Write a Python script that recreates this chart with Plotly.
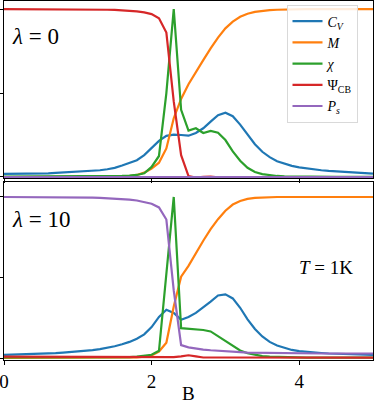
import plotly.graph_objects as go

B = [0.0, 0.1, 0.2, 0.3, 0.4, 0.5, 0.6, 0.7, 0.8, 0.9,
     1.0, 1.1, 1.2, 1.3, 1.4, 1.5, 1.6, 1.7, 1.8, 1.9,
     2.0, 2.1, 2.2, 2.3, 2.4, 2.5, 2.6, 2.7, 2.8, 2.9,
     3.0, 3.1, 3.2, 3.3, 3.4, 3.5, 3.6, 3.7, 3.8, 3.9,
     4.0, 4.1, 4.2, 4.3, 4.4, 4.5, 4.6, 4.7, 4.8, 4.9, 5.0]

# ---- lambda = 0 (top panel) ----
cv_top = [0.018, 0.018, 0.019, 0.019, 0.020, 0.021, 0.022, 0.024, 0.026, 0.028,
          0.030, 0.033, 0.036, 0.040, 0.046, 0.054, 0.068, 0.085, 0.100, 0.130,
          0.175, 0.215, 0.245, 0.252, 0.250, 0.246, 0.262, 0.290, 0.330, 0.368,
          0.383, 0.362, 0.312, 0.252, 0.195, 0.150, 0.118, 0.094, 0.078, 0.066,
          0.057, 0.050, 0.044, 0.040, 0.036, 0.033, 0.030, 0.027, 0.024, 0.022, 0.020]
m_top = [0.0, 0.0, 0.0, 0.0, 0.0, 0.0, 0.0, 0.0, 0.0, 0.0,
         0.0, 0.0, 0.0, 0.0, 0.001, 0.001, 0.002, 0.005, 0.012, 0.026,
         0.050, 0.085, 0.170, 0.350, 0.465, 0.552, 0.627, 0.696, 0.766, 0.830,
         0.885, 0.925, 0.954, 0.972, 0.983, 0.990, 0.994, 0.996, 0.998, 0.999,
         1.0, 1.0, 1.0, 1.0, 1.0, 1.0, 1.0, 1.0, 1.0, 1.0, 1.0]
chi_top = [0.002, 0.002, 0.002, 0.002, 0.002, 0.002, 0.002, 0.002, 0.002, 0.002,
           0.002, 0.003, 0.003, 0.003, 0.003, 0.004, 0.006, 0.008, 0.012, 0.022,
           0.060, 0.125, 0.500, 1.0, 0.400, 0.276, 0.290, 0.262, 0.274, 0.264,
           0.220, 0.152, 0.097, 0.055, 0.030, 0.017, 0.010, 0.006, 0.004, 0.003,
           0.002, 0.002, 0.002, 0.001, 0.001, 0.001, 0.001, 0.001, 0.001, 0.001, 0.001]
psi_top = [1.0, 1.0, 1.0, 1.0, 1.0, 1.0, 1.0, 0.999, 0.999, 0.999,
           0.999, 0.998, 0.998, 0.997, 0.996, 0.995, 0.993, 0.990, 0.986, 0.980,
           0.970, 0.945, 0.860, 0.450, 0.130, 0.005, -0.003, 0.001, 0.002, -0.002,
           -0.004, 0.0, 0.001, 0.0, 0.0, 0.0, 0.0, 0.0, 0.0, 0.0,
           0.0, 0.0, 0.0, 0.0, 0.0, 0.0, 0.0, 0.0, 0.0, 0.0, 0.0]
ps_top = [0.0] * 51

# ---- lambda = 10 (bottom panel) ----
cv_bot = [0.019, 0.020, 0.021, 0.022, 0.024, 0.026, 0.028, 0.030, 0.033, 0.036,
          0.040, 0.044, 0.049, 0.055, 0.063, 0.073, 0.085, 0.100, 0.120, 0.147,
          0.192, 0.255, 0.300, 0.280, 0.238, 0.255, 0.280, 0.313, 0.350, 0.388,
          0.395, 0.370, 0.312, 0.240, 0.180, 0.134, 0.100, 0.078, 0.062, 0.050,
          0.043, 0.038, 0.034, 0.031, 0.028, 0.026, 0.024, 0.022, 0.021, 0.020, 0.019]
m_bot = [0.0, 0.0, 0.0, 0.0, 0.0, 0.0, 0.0, 0.0, 0.0, 0.0,
         0.0, 0.0, 0.0, 0.001, 0.001, 0.001, 0.002, 0.002, 0.004, 0.008,
         0.016, 0.040, 0.095, 0.320, 0.505, 0.572, 0.652, 0.728, 0.800, 0.862,
         0.915, 0.953, 0.975, 0.988, 0.994, 0.997, 0.999, 1.0, 1.0, 1.0,
         1.0, 1.0, 1.0, 1.0, 1.0, 1.0, 1.0, 1.0, 1.0, 1.0, 1.0]
chi_bot = [0.003, 0.003, 0.003, 0.003, 0.003, 0.003, 0.003, 0.003, 0.003, 0.003,
           0.003, 0.003, 0.003, 0.003, 0.003, 0.003, 0.004, 0.006, 0.009, 0.013,
           0.020, 0.045, 0.500, 1.0, 0.185, 0.181, 0.178, 0.174, 0.165, 0.135,
           0.104, 0.073, 0.047, 0.030, 0.019, 0.012, 0.008, 0.006, 0.004, 0.003,
           0.002, 0.002, 0.002, 0.002, 0.002, 0.002, 0.002, 0.002, 0.002, 0.002, 0.002]
psi_bot = [0.008, 0.008, 0.008, 0.008, 0.008, 0.008, 0.008, 0.008, 0.008, 0.008,
           0.008, 0.008, 0.008, 0.008, 0.008, 0.008, 0.008, 0.008, 0.008, 0.008,
           0.008, 0.008, 0.008, 0.005, 0.010, 0.017, 0.010, 0.003, 0.003, 0.003,
           0.003, 0.003, 0.003, 0.003, 0.003, 0.003, 0.003, 0.003, 0.003, 0.003,
           0.002, 0.002, 0.002, 0.002, 0.002, 0.002, 0.002, 0.002, 0.002, 0.002, 0.002]
ps_bot = [1.0, 1.0, 1.0, 1.0, 1.0, 1.0, 0.999, 0.999, 0.998, 0.998,
          0.998, 0.997, 0.996, 0.995, 0.993, 0.990, 0.987, 0.983, 0.978, 0.970,
          0.958, 0.935, 0.860, 0.420, 0.080, 0.066, 0.058, 0.052, 0.048, 0.044,
          0.041, 0.038, 0.036, 0.034, 0.033, 0.032, 0.031, 0.030, 0.029, 0.029,
          0.029, 0.029, 0.029, 0.028, 0.028, 0.028, 0.028, 0.028, 0.028, 0.028, 0.028]

names = ["<i>C</i><sub><i>V</i></sub>", "<i>M</i>", "<i>χ</i>",
         "Ψ<sub>CB</sub>", "<i>P</i><sub><i>s</i></sub>"]
colors = ["#1f77b4", "#ff7f0e", "#2ca02c", "#d62728", "#9467bd"]
top_series = [cv_top, m_top, chi_top, psi_top, ps_top]
bot_series = [cv_bot, m_bot, chi_bot, psi_bot, ps_bot]

SERIF = "Liberation Serif, DejaVu Serif, serif"

fig = go.Figure()
for name, col, ys in zip(names, colors, top_series):
    fig.add_trace(go.Scatter(x=B, y=ys, mode="lines", name=name,
                             line=dict(color=col, width=2.2),
                             xaxis="x", yaxis="y", showlegend=True))
for name, col, ys in zip(names, colors, bot_series):
    fig.add_trace(go.Scatter(x=B, y=ys, mode="lines", name=name,
                             line=dict(color=col, width=2.2),
                             xaxis="x2", yaxis="y2", showlegend=False))

axis_common = dict(showline=True, mirror=True, linecolor="black", linewidth=1,
                   ticks="outside", ticklen=4, tickwidth=1, tickcolor="black",
                   showgrid=False, zeroline=False, automargin=False)

fig.update_layout(
    width=374, height=404,
    margin=dict(l=4, r=1, t=1, b=44, autoexpand=False),
    paper_bgcolor="white", plot_bgcolor="white",
    font=dict(family=SERIF, color="black", size=19),
    xaxis=dict(domain=[0, 1], range=[0, 5], tickvals=[0, 2, 4],
               showticklabels=False, anchor="y", **axis_common),
    yaxis=dict(domain=[0.507, 1.0], range=[-0.006, 1.048], tickvals=[0, 0.5, 1],
               showticklabels=False, anchor="x", **axis_common),
    xaxis2=dict(domain=[0, 1], range=[0, 5], tickvals=[0, 2, 4],
                ticktext=["0", "2", "4"], showticklabels=True, anchor="y2",
                tickfont=dict(size=19, family=SERIF), ticklabeloverflow="allow",
                **axis_common),
    yaxis2=dict(domain=[0.0, 0.4958], range=[-0.0124, 1.093], tickvals=[0, 0.5, 1],
                showticklabels=False, anchor="x2", **axis_common),
    legend=dict(x=0.958, y=0.99, xanchor="right", yanchor="top",
                bgcolor="rgba(255,255,255,0.85)", bordercolor="#d9d9d9", borderwidth=1,
                font=dict(size=14, family=SERIF)),
    annotations=[
        dict(text="<i>λ</i> = 0", x=0.016, y=0.9025, xref="paper", yref="paper",
             xanchor="left", yanchor="middle", showarrow=False,
             font=dict(size=23, family=SERIF)),
        dict(text="<i>λ</i> = 10", x=0.016, y=0.39, xref="paper", yref="paper",
             xanchor="left", yanchor="middle", showarrow=False,
             font=dict(size=23, family=SERIF)),
        dict(text="<i>T</i> = 1K", x=0.794, y=0.259, xref="paper", yref="paper",
             xanchor="left", yanchor="middle", showarrow=False,
             font=dict(size=19, family=SERIF)),
        dict(text="B", x=0.5, y=-0.093, xref="paper", yref="paper",
             xanchor="center", yanchor="middle", showarrow=False,
             font=dict(size=19, family=SERIF)),
    ],
)

fig.write_html("out.html", config={"displayModeBar": False},
               post_script="document.body.style.margin='0';document.body.style.overflow='hidden';")
